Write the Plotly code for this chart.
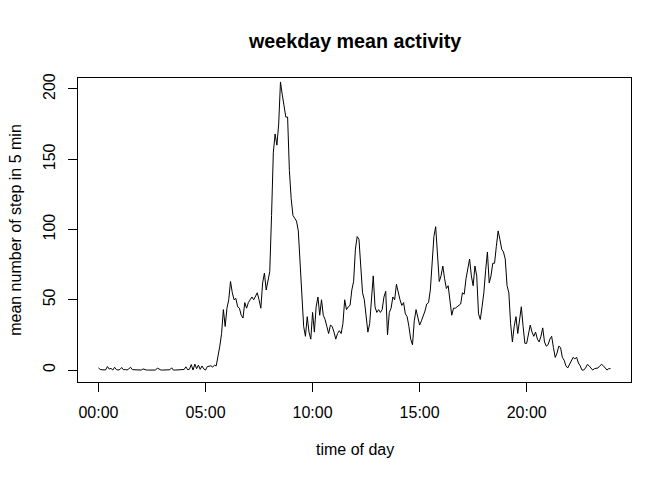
import plotly.graph_objects as go

# mean steps per 5-minute interval on weekdays
night = [1.5, 0.4, 0.2, 0.2, 0.1, 2.5, 0.7, 1.2, 0.0, 2.0, 0.4, 0.0,
         0.4, 1.8, 0.2, 0.4, 0.0, 0.9, 2.0, 0.3, 0.2, 0.0, 0.0, 0.0,
         0.0, 0.8, 0.2, 0.0, 0.0, 0.0, 0.0, 0.0, 0.0, 1.4, 0.4, 0.0,
         0.0, 0.0, 0.0, 0.0, 0.2, 1.6, 0.0, 0.0, 0.0, 0.0, 0.0, 0.0,
         0.4, 2.3, 0.2, 0.6, 3.9, 0.0, 4.2, 1.0, 3.5, 0.5, 2.9, 0.8]
morning = [0.0, 2.5, 2.8, 3.0, 2.2, 3.4, 3, 9, 17, 26, 43, 31,
           44, 50, 63, 55, 50, 51, 45, 44, 39, 37, 48, 44,
           48, 50, 52, 50, 53, 55, 50, 44, 62, 69, 57, 65,
           70, 110, 155, 168, 160, 175, 205, 196, 186, 180, 180, 142,
           122, 110, 108, 106, 99, 74, 50, 31, 24, 38, 27, 22]
midday = [41, 27, 45, 52, 39, 50, 39, 36, 31, 26, 32, 31,
          27, 22, 26, 28, 26, 33, 50, 43, 45, 46, 57, 63,
          86, 95, 93, 71, 55, 50, 40, 27, 33, 50, 67, 45,
          41, 43, 41, 43, 52, 56, 25, 41, 44, 52, 50, 61,
          55, 50, 46, 48, 40, 38, 31, 22, 18, 35, 43, 38]
afternoon = [32, 35, 38, 42, 47, 48, 57, 80, 95, 102, 85, 63,
             67, 74, 65, 58, 60, 50, 39, 44, 44, 45, 46, 47,
             55, 54, 65, 72, 79, 67, 60, 74, 67, 40, 36, 45,
             55, 71, 84, 62, 67, 76, 76, 88, 99, 93, 86, 84]
evening = [79, 60, 55, 33, 20, 31, 38, 26, 36, 45, 31, 19,
           19, 25, 32, 27, 24, 27, 22, 20, 24, 30, 20, 17,
           18, 22, 24, 16, 9, 12, 17, 16, 9, 7, 3, 1.5,
           4, 6, 9, 8, 9, 5, 3, 0, 0, 1.5, 4, 3,
           1.5, 0, 1, 1.5, 1.5, 3, 4, 3, 1.5, 0, 1, 1]

steps = night + morning + midday + afternoon + evening
hours = [5 * i / 60 for i in range(len(steps))]

tick_hours = [0, 5, 10, 15, 20]
tick_labels = ["00:00", "05:00", "10:00", "15:00", "20:00"]
y_ticks = [0, 50, 100, 150, 200]

font = "Liberation Sans, Arial, sans-serif"

fig = go.Figure()
fig.add_trace(go.Scatter(x=hours, y=steps, mode="lines",
                         line=dict(color="black", width=1)))

axis_style = dict(showgrid=False, zeroline=False, showline=True, mirror=True,
                  linecolor="black", linewidth=1, ticks="outside", ticklen=9,
                  tickwidth=1, tickcolor="black", ticklabelstandoff=7,
                  tickfont=dict(family=font, size=16, color="black"))

fig.update_xaxes(range=[-0.957, 24.873], tickvals=tick_hours,
                 ticktext=tick_labels, **axis_style)
fig.update_yaxes(range=[-8.5, 207.8], tickvals=y_ticks, tickangle=-90,
                 **axis_style)

fig.add_annotation(text="<b>weekday mean activity</b>", xref="paper", yref="paper",
                   x=0.5, y=1.1227, xanchor="center", yanchor="middle",
                   showarrow=False, font=dict(family=font, size=19.7, color="black"))
fig.add_annotation(text="time of day", xref="paper", yref="paper",
                   x=0.5, y=-0.2227, xanchor="center", yanchor="middle",
                   showarrow=False, font=dict(family=font, size=16, color="black"))
fig.add_annotation(text="mean number of step in 5 min", xref="paper", yref="paper",
                   x=-0.1142, y=0.5, xanchor="center", yanchor="middle",
                   textangle=-90, showarrow=False,
                   font=dict(family=font, size=16, color="black"))

# page body has an 8px margin, so the figure is 16px smaller than the window
fig.update_layout(width=656, height=464, showlegend=False,
                  margin=dict(l=70, r=33, t=70, b=90),
                  plot_bgcolor="white", paper_bgcolor="white")

fig.write_html("out.html", config={"displayModeBar": False})
